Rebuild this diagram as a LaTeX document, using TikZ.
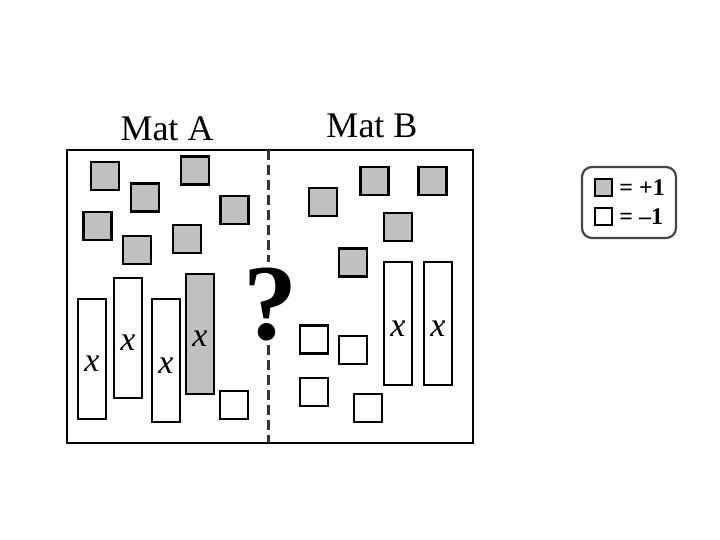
\documentclass[tikz,border=0pt]{standalone}
\usepackage{fontspec}
\setmainfont{Liberation Serif}
\definecolor{tilegray}{RGB}{192,192,192}
\definecolor{legbord}{RGB}{70,70,70}
\tikzset{
  tile/.style={draw=black, line width=1.3pt, minimum size=14pt, inner sep=0pt},
  plustile/.style={tile, fill=tilegray},
  minustile/.style={tile, fill=white},
  xbar/.style={draw=black, line width=1.3pt, minimum width=14pt, minimum height=60pt, inner sep=0pt,
    label={[font=\fontsize{17}{17}\selectfont\itshape, inner sep=0pt, yshift=-2.5pt]center:x}},
  mattitle/.style={font=\fontsize{18}{20}\selectfont, inner sep=0pt, anchor=base},
  legtile/.style={draw=black, line width=1pt, minimum size=8.5pt, inner sep=0pt},
  legtext/.style={font=\fontsize{12}{12}\selectfont\bfseries, anchor=west, inner sep=0pt},
  divider/.style={line width=1.5pt, draw=black!80, dash pattern=on 5pt off 2.5pt},
}
\begin{document}
\begin{tikzpicture}[x=0.5pt,y=-0.5pt]
\useasboundingbox (0,0) rectangle (720,540);
% titles
\node[mattitle] (ta) at (167,141) {Mat A};
\node[mattitle] (tb) at (372,138) {Mat B};
% mat frame
\draw[line width=1pt] (67,150) rectangle (473,443);
\coordinate (dtop) at (269,150);
\coordinate (dbot) at (269,443);
\coordinate (dq1) at (269,262);
\coordinate (dq2) at (269,345);
\node[font=\fontsize{54}{54}\selectfont\bfseries, inner sep=0pt] (q) at (270,305) {?};
\draw[divider] (dtop) -- (dq1);
\draw[divider] (dq2) -- (dbot);
% Mat A gray tiles
\node[plustile] (a1) at (105,176) {};
\node[plustile] (a2) at (145,197.5) {};
\node[plustile] (a3) at (195,170.5) {};
\node[plustile] (a4) at (234.5,210) {};
\node[plustile] (a5) at (97.5,226) {};
\node[plustile] (a6) at (187,239) {};
\node[plustile] (a7) at (137,250) {};
% Mat A bars
\node[xbar, fill=white] (ax1) at (92,359) {};
\node[xbar, fill=white] (ax2) at (128,338) {};
\node[xbar, fill=white, minimum height=61.5pt] (ax3) at (166,360.5) {};
\node[xbar, fill=tilegray] (ax4) at (200,334) {};
\node[minustile] (an1) at (234,405) {};
% Mat B gray tiles
\node[plustile] (b1) at (323,202) {};
\node[plustile] (b2) at (374.5,181) {};
\node[plustile] (b3) at (432.5,181) {};
\node[plustile] (b4) at (398,227) {};
\node[plustile] (b5) at (353,262.5) {};
% Mat B bars
\node[xbar, fill=white, minimum height=61.5pt] (bx1) at (398,323.5) {};
\node[xbar, fill=white, minimum height=61.5pt] (bx2) at (438,323.5) {};
% Mat B white tiles
\node[minustile] (bn1) at (314,339.5) {};
\node[minustile] (bn2) at (353,350) {};
\node[minustile] (bn3) at (314,392) {};
\node[minustile] (bn4) at (368,408) {};
% legend
\draw[draw=legbord, line width=1.1pt, rounded corners=5pt] (582,167) rectangle (676,238);
\node[legtile, fill=tilegray] (lp) at (603.5,188) {};
\node[legtile, fill=white] (ln) at (603.5,217) {};
\node[legtext] (lpt) at (619,188) {= +1};
\node[legtext] (lnt) at (619,217) {= \textendash1};
\end{tikzpicture}
\end{document}
